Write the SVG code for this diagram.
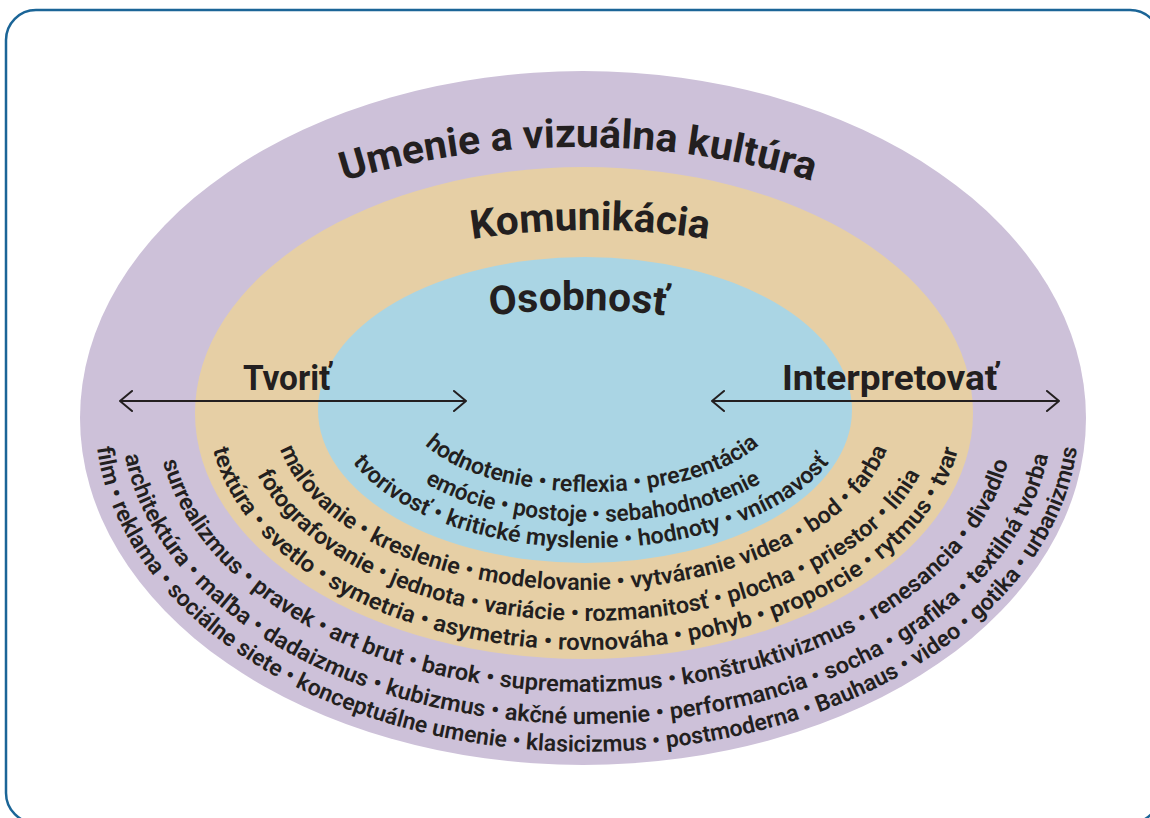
<svg xmlns="http://www.w3.org/2000/svg" width="1150" height="818" viewBox="0 0 1150 818">
<style>
.frame{fill:#ffffff;stroke:#1b6597;stroke-width:2.5}
.t{font-family:Roboto,"Liberation Sans","DejaVu Sans",sans-serif;fill:#231f20}
.s{font-size:23px;font-weight:600}
.h{font-size:40px;font-weight:700}
.a{font-size:35px;font-weight:700}
.arr{stroke:#231f20;stroke-width:2;fill:none;stroke-linecap:round;stroke-linejoin:round}
</style>
<defs>
<path id="pU" d="M96,418 A482,271 0 0 1 1060,418"/>
<path id="pK" d="M209,413 A381,183 0 0 1 971,413"/>
<path id="pO" d="M311,410 A267,100 0 0 1 845,410"/>
<path id="pP3" d="M95,418 A492,334 0 0 0 1079,418"/>
<path id="pP2" d="M121.5,418 A465,306 0 0 0 1051.5,418"/>
<path id="pP1" d="M157.5,418 A428,274 0 0 0 1013.5,418"/>
<path id="pT3" d="M208.5,413 A377,237 0 0 0 962.5,413"/>
<path id="pT2" d="M241.5,413 A347,208 0 0 0 935.5,413"/>
<path id="pT1" d="M273.5,413 A310,177 0 0 0 893.5,413"/>
<path id="pB3" d="M333.5,410 A257.5,138 0 0 0 848.5,410"/>
<path id="pB2" d="M371.4,410 A221.6,112 0 0 0 814.6,410"/>
<path id="pB1" d="M407.4,410 A184.6,82 0 0 0 776.6,410"/>
</defs>
<rect class="frame" x="6" y="10" width="1154" height="813" rx="30" ry="30"/>
<g id="umenie">
<ellipse cx="583" cy="418" rx="503" ry="347" fill="#cdc1d9"/>
<text class="t h" text-anchor="middle"><textPath href="#pU" startOffset="50%" textLength="475" lengthAdjust="spacingAndGlyphs">Umenie a vizuálna kultúra</textPath></text>
<text class="t s" text-anchor="middle"><textPath href="#pP1" startOffset="50%" textLength="1028" lengthAdjust="spacingAndGlyphs">surrealizmus • pravek • art brut • barok • suprematizmus • konštruktivizmus • renesancia • divadlo</textPath></text>
<text class="t s" text-anchor="middle"><textPath href="#pP2" startOffset="50%" textLength="1149" lengthAdjust="spacingAndGlyphs">architektúra • maľba • dadaizmus • kubizmus • akčné umenie • performancia • socha • grafika • textilná tvorba</textPath></text>
<text class="t s" text-anchor="middle"><textPath href="#pP3" startOffset="50%" textLength="1249" lengthAdjust="spacingAndGlyphs">film • reklama • sociálne siete • konceptuálne umenie • klasicizmus • postmoderna • Bauhaus • video • gotika • urbanizmus</textPath></text>
</g>
<g id="komunikacia">
<ellipse cx="584" cy="413" rx="389" ry="246" fill="#e6cfa5"/>
<text class="t h" text-anchor="middle"><textPath href="#pK" startOffset="50%" textLength="237" lengthAdjust="spacingAndGlyphs">Komunikácia</textPath></text>
<text class="t s" text-anchor="middle"><textPath href="#pT1" startOffset="50%" textLength="705" lengthAdjust="spacingAndGlyphs">maľovanie • kreslenie • modelovanie • vytváranie videa • bod • farba</textPath></text>
<text class="t s" text-anchor="middle"><textPath href="#pT2" startOffset="50%" textLength="757" lengthAdjust="spacingAndGlyphs">fotografovanie • jednota • variácie • rozmanitosť • plocha • priestor • línia</textPath></text>
<text class="t s" text-anchor="middle"><textPath href="#pT3" startOffset="50%" textLength="903" lengthAdjust="spacingAndGlyphs">textúra • svetlo • symetria • asymetria • rovnováha • pohyb • proporcie • rytmus • tvar</textPath></text>
</g>
<g id="osobnost">
<ellipse cx="585" cy="410" rx="267" ry="153" fill="#aad5e4"/>
<text class="t h" text-anchor="middle"><textPath href="#pO" startOffset="50%" textLength="176" lengthAdjust="spacingAndGlyphs">Osobnosť</textPath></text>
<text class="t s" text-anchor="middle"><textPath href="#pB1" startOffset="50%" textLength="354" lengthAdjust="spacingAndGlyphs">hodnotenie • reflexia • prezentácia</textPath></text>
<text class="t s" text-anchor="middle"><textPath href="#pB2" startOffset="50%" textLength="349" lengthAdjust="spacingAndGlyphs">emócie • postoje • sebahodnotenie</textPath></text>
<text class="t s" text-anchor="middle"><textPath href="#pB3" startOffset="50%" textLength="522" lengthAdjust="spacingAndGlyphs">tvorivosť • kritické myslenie • hodnoty • vnímavosť</textPath></text>
</g>
<g id="tvorit">
<text class="t a" x="243" y="390" textLength="88" lengthAdjust="spacingAndGlyphs">Tvoriť</text>
</g>
<g id="interpretovat">
<text class="t a" x="782" y="390" textLength="216" lengthAdjust="spacingAndGlyphs">Interpretovať</text>
</g>
<g id="connectors">
<path class="arr" d="M120,401 H466 M132,391 L120,401 L132,411 M454,391 L466,401 L454,411"/>
<path class="arr" d="M712,401 H1059 M724,391 L712,401 L724,411 M1047,391 L1059,401 L1047,411"/>
</g>
</svg>
